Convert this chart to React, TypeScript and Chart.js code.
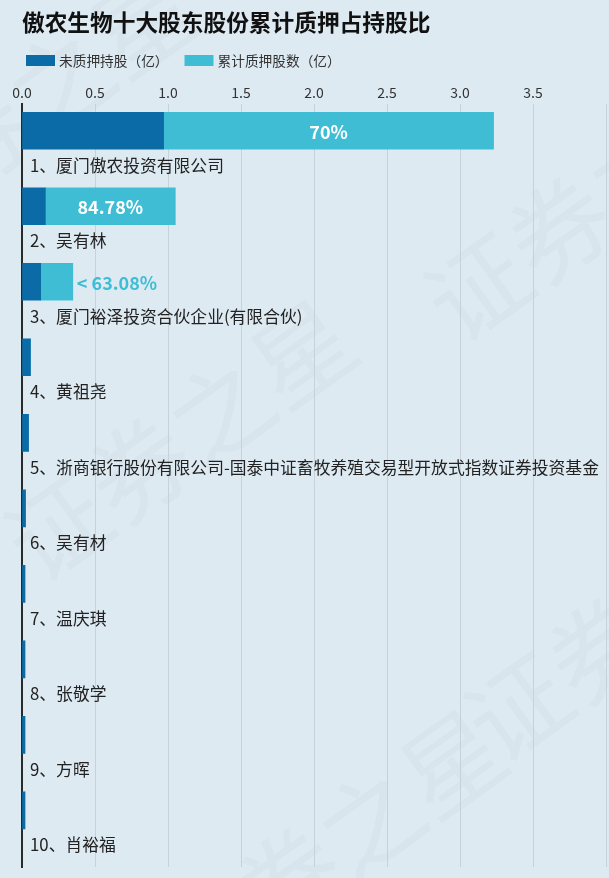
import React, { useEffect, useRef } from 'react';
import { Chart, registerables } from 'chart.js';

Chart.register(...registerables);

const TITLE = '傲农生物十大股东股份累计质押占持股比';
const seriesNames = ['未质押持股（亿）', '累计质押股数（亿）'];
const seriesColors = ['#0b6ba6', '#3fbdd5'];
const categories = [
  '1、厦门傲农投资有限公司',
  '2、吴有林',
  '3、厦门裕泽投资合伙企业(有限合伙)',
  '4、黄祖尧',
  '5、浙商银行股份有限公司-国泰中证畜牧养殖交易型开放式指数证券投资基金',
  '6、吴有材',
  '7、温庆琪',
  '8、张敬学',
  '9、方晖',
  '10、肖裕福',
];
const unpledged = [0.97, 0.16, 0.128, 0.058, 0.045, 0.024, 0.02, 0.02, 0.02, 0.02];
const pledged = [2.26, 0.89, 0.22, 0, 0, 0, 0, 0, 0, 0];
const pledgeRatioLabels = ['70%', '84.78%', '63.08%', '', '', '', '', '', '', ''];
const xMin = 0;
const xMax = 4;
const xStep = 0.5;
const WATERMARK = '证券之星';

const FONT = '"Noto Sans CJK SC", "Noto Sans", sans-serif';
const BG = '#deeaf2';

const decorPlugin = {
  id: 'decor',
  beforeDraw(chart: any) {
    const { ctx, width, height } = chart;
    ctx.save();
    ctx.fillStyle = BG;
    ctx.fillRect(0, 0, width, height);
    // watermark
    ctx.fillStyle = 'rgba(110,130,150,0.05)';
    ctx.font = `100px ${FONT}`;
    ctx.textAlign = 'center';
    ctx.textBaseline = 'middle';
    const spots = [
      [180, 440],
      [600, 200],
      [20, 110],
      [640, 620],
      [330, 850],
    ];
    for (const [cx, cy] of spots) {
      ctx.save();
      ctx.translate(cx, cy);
      ctx.rotate(-0.62);
      ctx.fillText(WATERMARK, 0, 0);
      ctx.restore();
    }
    // title
    ctx.fillStyle = '#111';
    ctx.font = `bold 22.7px ${FONT}`;
    ctx.textAlign = 'left';
    ctx.textBaseline = 'middle';
    ctx.fillText(TITLE, 22, 22);
    // legend
    ctx.font = `13.7px ${FONT}`;
    let x = 26;
    chart.data.datasets.forEach((ds: any) => {
      ctx.fillStyle = ds.backgroundColor;
      ctx.fillRect(x, 55, 29, 11);
      ctx.fillStyle = '#333';
      ctx.fillText(ds.label, x + 33, 60.5);
      x += 33 + ctx.measureText(ds.label).width + 16;
    });
    ctx.restore();
  },
  afterDatasetsDraw(chart: any) {
    const { ctx, chartArea } = chart;
    const yScale = chart.scales.y;
    const meta1 = chart.getDatasetMeta(1);
    ctx.save();
    ctx.textBaseline = 'middle';
    categories.forEach((name, i) => {
      const yc = yScale.getPixelForValue(i);
      ctx.font = `16.8px ${FONT}`;
      ctx.fillStyle = '#222';
      ctx.textAlign = 'left';
      ctx.fillText(name, chartArea.left + 8, yc + 34.5);
      const lbl = pledgeRatioLabels[i];
      if (lbl) {
        const el = meta1.data[i];
        const start = Math.min(el.base, el.x);
        const end = Math.max(el.base, el.x);
        ctx.font = `bold 18px ${FONT}`;
        const w = ctx.measureText(lbl).width;
        if (w + 12 < end - start) {
          ctx.fillStyle = '#ffffff';
          ctx.textAlign = 'center';
          ctx.fillText(lbl, (start + end) / 2, yc + 1);
        } else {
          ctx.fillStyle = seriesColors[1];
          ctx.textAlign = 'left';
          ctx.fillText('< ' + lbl, end + 4, yc + 1);
        }
      }
    });
    ctx.restore();
  },
};

export default function App() {
  const ref = useRef<HTMLCanvasElement>(null);
  useEffect(() => {
    document.body.style.margin = '0';
    document.body.style.background = BG;
    const chart = new Chart(ref.current!, {
      type: 'bar',
      data: {
        labels: categories.map((_, i) => i),
        datasets: [
          { label: seriesNames[0], data: unpledged, backgroundColor: seriesColors[0], barThickness: 37, stack: 's' },
          { label: seriesNames[1], data: pledged, backgroundColor: seriesColors[1], barThickness: 37, stack: 's' },
        ],
      },
      options: {
        indexAxis: 'y',
        animation: false,
        responsive: false,
        devicePixelRatio: 1,
        layout: { padding: { top: 81, left: 22, right: 1, bottom: 11 } },
        plugins: {
          legend: { display: false },
          title: { display: false },
          tooltip: { enabled: false },
        },
        scales: {
          x: {
            type: 'linear',
            position: 'top',
            min: xMin,
            max: xMax,
            stacked: true,
            grid: { color: '#c7d1da', lineWidth: 1, drawTicks: false },
            border: { display: false },
            ticks: {
              stepSize: xStep,
              padding: 3,
              color: '#333',
              font: { size: 14, family: FONT },
              callback: (v: any) => (Number(v) >= xMax ? '' : Number(v).toFixed(1)),
            },
          },
          y: {
            type: 'linear',
            reverse: true,
            offset: false,
            min: -0.357,
            max: 9.75,
            stacked: true,
            z: 1,
            grid: { display: false, drawTicks: false, offset: false },
            border: { display: true, color: '#2a2a2a', width: 2 },
            ticks: { display: false },
          },
        },
      },
      plugins: [decorPlugin],
    } as any);
    return () => chart.destroy();
  }, []);
  return (
    <div style={{ width: 609, height: 878, background: BG }}>
      <canvas ref={ref} width={609} height={878} style={{ display: 'block' }} />
    </div>
  );
}
